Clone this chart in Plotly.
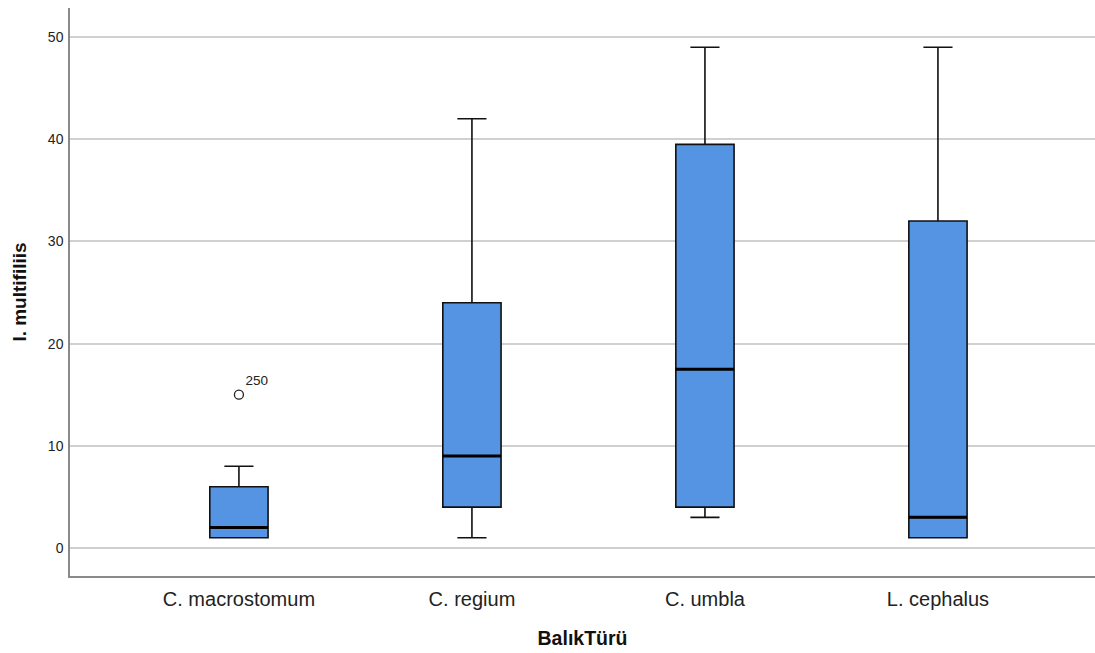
import plotly.graph_objects as go

categories = ["C. macrostomum", "C. regium", "C. umbla", "L. cephalus"]
lower = [1, 1, 3, 1]
q1 = [1, 4, 4, 1]
median = [2, 9, 17.5, 3]
q3 = [6, 24, 39.5, 32]
upper = [8, 42, 49, 49]
outlier_cat = [0]
outlier_val = [15]
outlier_label = ["250"]
yticks = [0, 10, 20, 30, 40, 50]

xpos = list(range(len(categories)))
fill = "#5494E2"
halfw = 0.125

fig = go.Figure()
fig.add_trace(go.Box(
    x=xpos, q1=q1, median=median, q3=q3, lowerfence=lower, upperfence=upper,
    fillcolor=fill, line=dict(color="#111111", width=1.6),
    width=0.25, whiskerwidth=0.5, boxpoints=False, showlegend=False,
    hoverinfo="skip",
))
for i, m in zip(xpos, median):
    fig.add_trace(go.Scatter(
        x=[i - halfw, i + halfw], y=[m, m], mode="lines",
        line=dict(color="black", width=3), showlegend=False, hoverinfo="skip",
    ))
fig.add_trace(go.Scatter(
    x=outlier_cat, y=outlier_val, mode="markers+text", text=outlier_label,
    textposition="top right", textfont=dict(size=13.5, color="#222222"),
    marker=dict(symbol="circle-open", size=9, color="#222222", line=dict(width=1.3)),
    showlegend=False, hoverinfo="skip",
))

fig.update_layout(
    width=1095, height=653, autosize=False,
    margin=dict(l=70, r=0, t=8, b=77),
    paper_bgcolor="white", plot_bgcolor="white",
    font=dict(family="Liberation Sans, Arial, sans-serif", color="#222222"),
)
fig.update_xaxes(
    range=[-0.725, 3.674], tickvals=xpos, ticktext=categories,
    tickfont=dict(size=20, color="#222222"), showgrid=False, zeroline=False,
    showline=True, linecolor="#8a8a8a", linewidth=1.5, ticks="",
    ticklabelstandoff=4,
    title=dict(text="<b>BalıkTürü</b>", font=dict(size=19.5, color="#111111"), standoff=23),
)
fig.update_yaxes(
    range=[-2.74, 52.84], tickvals=yticks, tickfont=dict(size=14, color="#222222"),
    showgrid=True, gridcolor="#d0d0d0", gridwidth=1.5, zeroline=False,
    showline=True, linecolor="#8a8a8a", linewidth=1.5, ticks="",
    ticklabelstandoff=2,
    title=dict(text="<b>I. multifiliis</b>", font=dict(size=19, color="#111111"), standoff=16),
)

fig.write_html("out.html")
